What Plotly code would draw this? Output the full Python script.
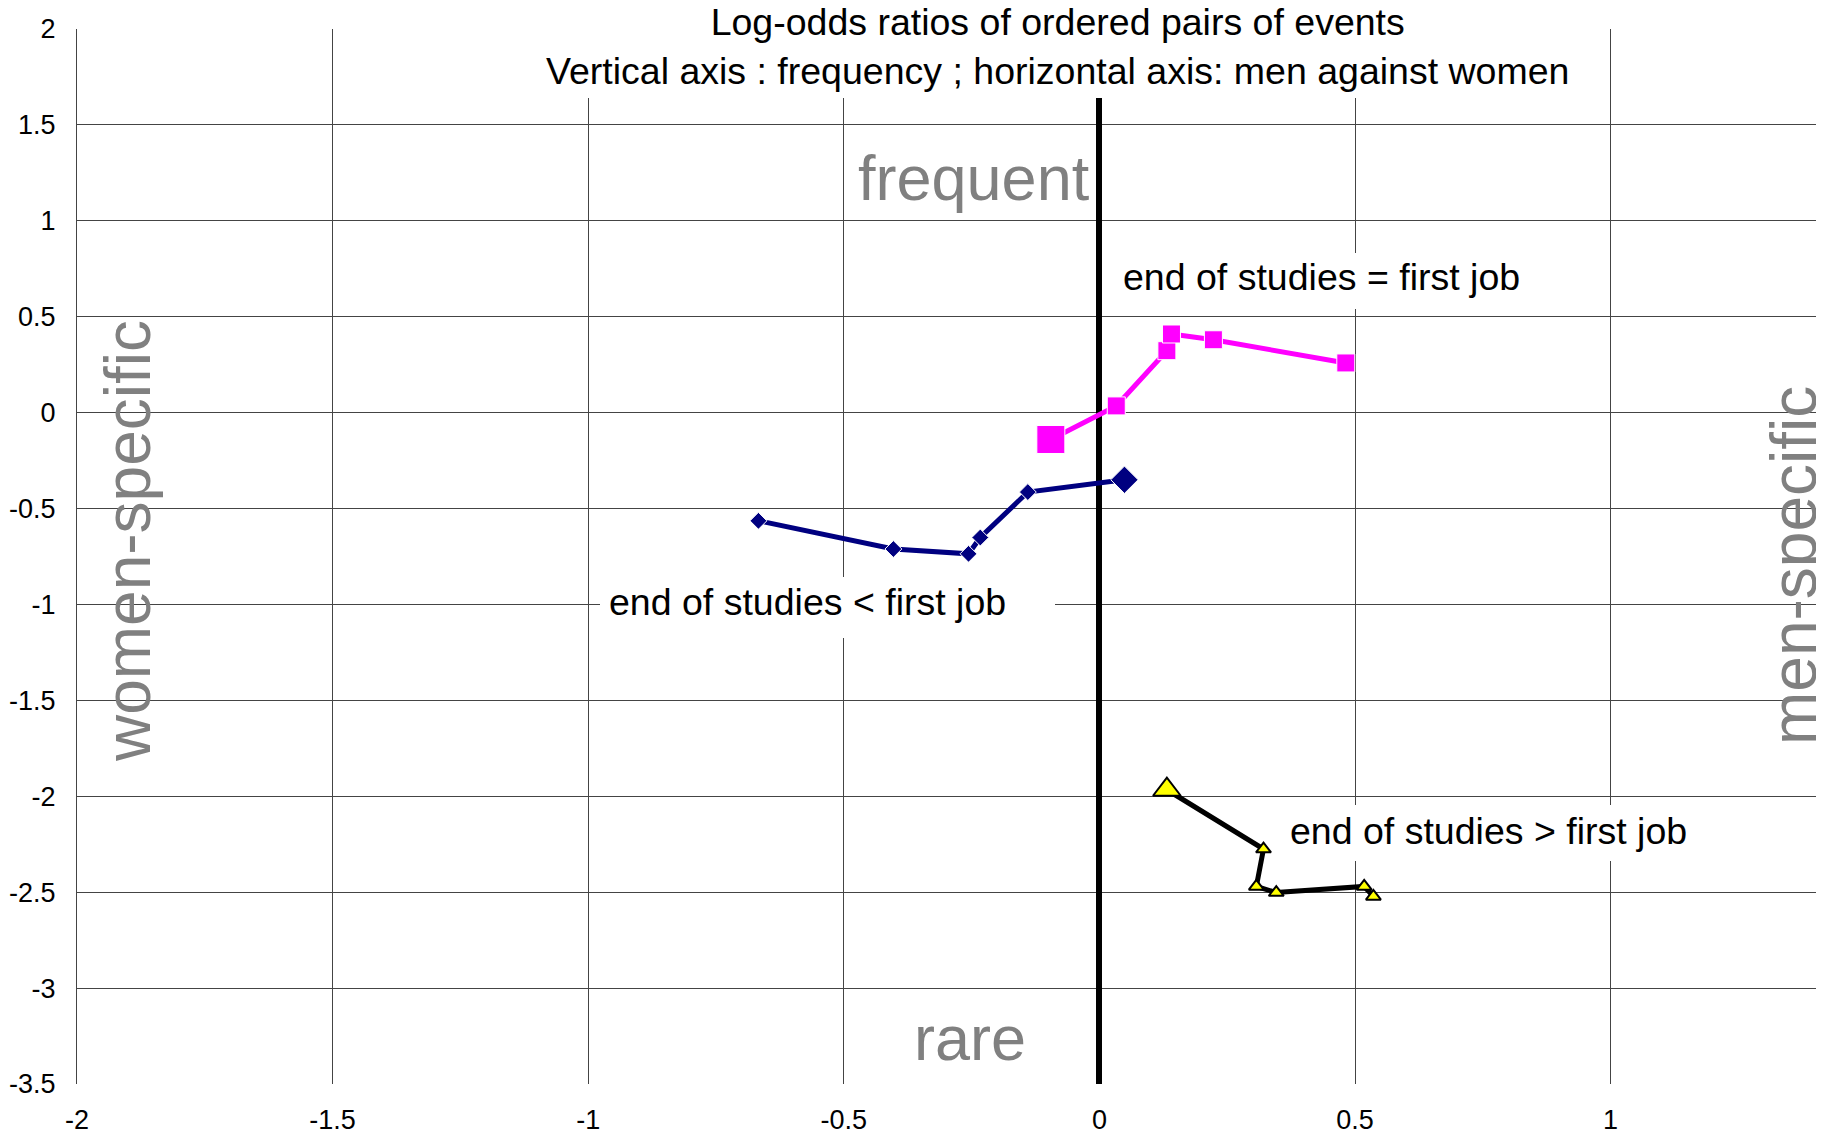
import plotly.graph_objects as go

# ---------------- data ----------------
# end of studies = first job (magenta squares)
eq_x = [-0.095, 0.033, 0.132, 0.141, 0.223, 0.482]
eq_y = [-0.14, 0.035, 0.323, 0.41, 0.38, 0.259]

# end of studies < first job (navy diamonds)
lt_x = [0.049, -0.140, -0.233, -0.256, -0.403, -0.667]
lt_y = [-0.350, -0.414, -0.651, -0.736, -0.711, -0.564]

# end of studies > first job (yellow triangles)
gt_x = [0.132, 0.321, 0.307, 0.346, 0.518, 0.536]
gt_y = [-1.966, -2.275, -2.470, -2.502, -2.470, -2.522]

x_tick_vals = [-2, -1.5, -1, -0.5, 0, 0.5, 1]
x_tick_text = ["-2", "-1.5", "-1", "-0.5", "0", "0.5", "1"]
y_tick_vals = [2, 1.5, 1, 0.5, 0, -0.5, -1, -1.5, -2, -2.5, -3, -3.5]
y_tick_text = ["2", "1.5", "1", "0.5", "0", "-0.5", "-1", "-1.5", "-2", "-2.5", "-3", "-3.5"]

title_lines = ["Log-odds ratios of ordered pairs of events",
               "Vertical axis : frequency ; horizontal axis: men against women"]
label_eq = "end of studies = first job"
label_lt = "end of studies < first job"
label_gt = "end of studies > first job"

# ---------------- style ----------------
FONT = "Arial, Liberation Sans, sans-serif"
OFF = 8                      # default page body margin
PAGE_W, PAGE_H = 1824, 1134
W, H = PAGE_W - OFF, PAGE_H - OFF
# plot area in page pixels
PL, PR, PT, PB = 77, 1824, 29, 1084
ML, MR, MT, MB = PL - OFF, OFF + W - PR, PT - OFF, OFF + H - PB
PX_PER_X = 511.2
x_max = -2 + (PR - PL) / PX_PER_X


def sizes(n, big, small):
    return [big] + [small] * (n - 1)


fig = go.Figure()

fig.add_trace(go.Scatter(
    x=eq_x, y=eq_y, mode="lines+markers", name=label_eq,
    line=dict(color="#FF00FF", width=5),
    marker=dict(symbol="square", color="#FF00FF", opacity=1, size=sizes(len(eq_x), 28, 18)),
))
fig.add_trace(go.Scatter(
    x=lt_x, y=lt_y, mode="lines+markers", name=label_lt,
    line=dict(color="#000080", width=5),
    marker=dict(symbol="diamond", color="#000080", opacity=1, size=sizes(len(lt_x), 21, 13)),
))
fig.add_trace(go.Scatter(
    x=gt_x, y=gt_y, mode="lines+markers", name=label_gt,
    line=dict(color="#000000", width=5),
    marker=dict(symbol="triangle-up", color="#FFFF00", opacity=1, size=sizes(len(gt_x), 24, 13),
                line=dict(color="#000000", width=2)),
))


def px2paper(px, py):
    return (px - PL) / (PR - PL), (PB - py) / (PB - PT)


# white masking boxes (title and labels), in page pixels
boxes = [(465, 0, 1580, 98), (1106, 253, 1540, 309), (600, 577, 1055, 638), (1282, 805, 1700, 861)]
shapes = []
for (a, b, c, d) in boxes:
    x0, y1 = px2paper(a, b)
    x1, y0 = px2paper(c, d)
    shapes.append(dict(type="rect", xref="paper", yref="paper", x0=x0, x1=x1, y0=y0, y1=y1,
                       fillcolor="white", line=dict(width=0), layer="above"))

annotations = []


def add_text(text, px, py, size, color="black", angle=0):
    x, y = px2paper(px, py)
    annotations.append(dict(text=text, x=x, y=y, xref="paper", yref="paper",
                            showarrow=False, xanchor="center", yanchor="middle",
                            textangle=angle, font=dict(family=FONT, size=size, color=color)))


add_text("<br>".join(title_lines), 1057, 46, 37.5)
add_text(label_eq, 1321, 277, 37.5)
add_text(label_lt, 807, 602, 37.5)
add_text(label_gt, 1488, 831, 37.5)
add_text("frequent", 974, 178, 63, "#808080")
add_text("rare", 970, 1038, 63, "#808080")
add_text("women-specific", 128, 541, 64, "#808080", -90)
add_text("men-specific", 1794, 566, 64, "#808080", -90)

fig.update_layout(
    width=W, height=H,
    margin=dict(l=ML, r=MR, t=MT, b=MB, pad=0, autoexpand=False),
    paper_bgcolor="white", plot_bgcolor="white",
    showlegend=False,
    font=dict(family=FONT, size=27, color="black"),
    shapes=shapes, annotations=annotations,
    xaxis=dict(range=[-2, x_max], tickvals=x_tick_vals, ticktext=x_tick_text,
               showgrid=True, gridcolor="#444444", gridwidth=1,
               zeroline=True, zerolinecolor="black", zerolinewidth=6,
               showline=False, ticks="", ticklabelstandoff=17, automargin=False,
               tickfont=dict(family=FONT, size=27, color="black")),
    yaxis=dict(range=[-3.5, 2], tickvals=y_tick_vals, ticktext=y_tick_text,
               showgrid=True, gridcolor="#444444", gridwidth=1,
               zeroline=False, showline=True, linecolor="#444444", linewidth=1,
               ticks="", ticklabelstandoff=15, automargin=False,
               tickfont=dict(family=FONT, size=27, color="black")),
)

fig.write_html("out.html")
